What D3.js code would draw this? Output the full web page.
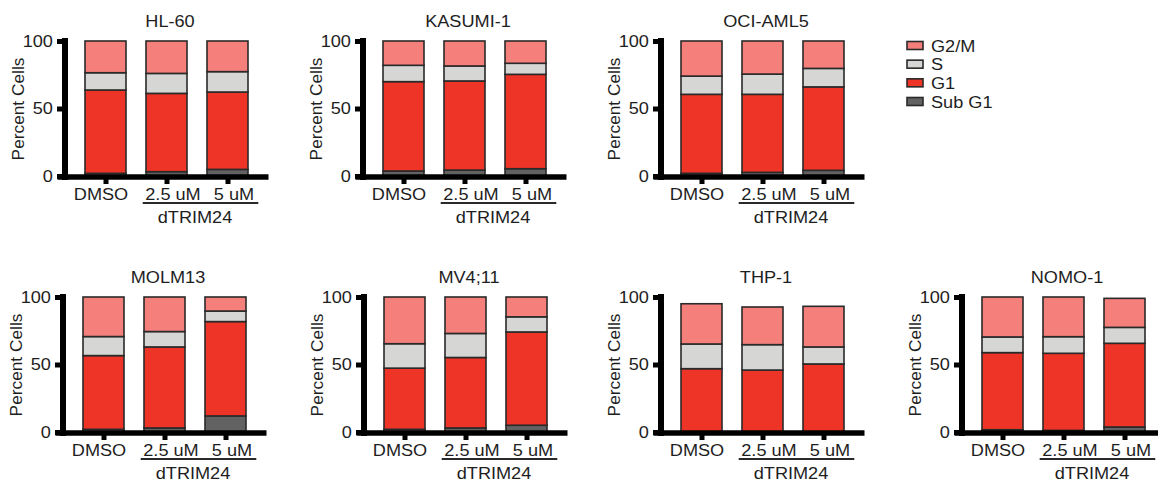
<!DOCTYPE html>
<html>
<head>
<meta charset="utf-8">
<script src="https://cdn.jsdelivr.net/npm/d3@7"></script>
<style>
  html, body { margin: 0; padding: 0; background: #fff; }
  svg { display: block; }
  text { font-family: "Liberation Sans", Arial, Helvetica, sans-serif; fill: #1e1e1e; }
</style>
</head>
<body>
<svg id="chart" width="1158" height="483"></svg>
<script>
// ---------------- DATA ----------------
const cellLines = ["HL-60", "KASUMI-1", "OCI-AML5", "MOLM13", "MV4;11", "THP-1", "NOMO-1"];
const conditions = ["DMSO", "2.5 uM", "5 uM"];
const treatmentLabel = "dTRIM24";
const phases = ["Sub G1", "G1", "S", "G2/M"];           // stacking order (bottom -> top)
const legendOrder = ["G2/M", "S", "G1", "Sub G1"];
const yTicks = [0, 50, 100];

// percent of cells per phase: [cell line][condition]
const subG1 = [
  [2.0, 3.2, 4.9],
  [3.7, 4.4, 5.4],
  [2.0, 2.7, 4.2],
  [2.0, 3.0, 11.9],
  [2.0, 3.0, 5.0],
  [0.0, 0.0, 0.0],
  [1.7, 1.2, 3.7]
];
const g1 = [
  [61.7, 58.0, 57.3],
  [66.2, 66.0, 69.9],
  [58.5, 57.8, 61.8],
  [54.6, 60.0, 69.9],
  [45.3, 52.2, 69.1],
  [46.9, 45.9, 50.4],
  [57.1, 57.1, 62.0]
];
const sPhase = [
  [12.8, 14.8, 15.1],
  [12.1, 11.1, 8.2],
  [13.5, 15.0, 13.7],
  [14.1, 11.4, 7.8],
  [18.1, 17.8, 11.2],
  [18.3, 18.8, 12.6],
  [11.6, 12.3, 11.8]
];
const g2m = [
  [23.5, 24.0, 22.7],
  [18.0, 18.5, 16.5],
  [26.0, 24.5, 20.3],
  [29.3, 25.6, 10.4],
  [34.6, 27.0, 14.7],
  [29.8, 27.9, 30.1],
  [29.6, 29.4, 21.5]
];

// ---------------- STYLE / LAYOUT ----------------
const colors = { "G2/M": "#f47f7b", "S": "#d6d6d4", "G1": "#ee3426", "Sub G1": "#626262" };
const seriesArrays = { "Sub G1": subG1, "G1": g1, "S": sPhase, "G2/M": g2m };
const panelPos = [
  { x: 65, y: 0 }, { x: 363, y: 0 }, { x: 661, y: 0 },
  { x: 63, y: 256 }, { x: 364, y: 256 }, { x: 661, y: 256 }, { x: 962, y: 256 }
];
const labelShift = [-5, 6, 6];
const SX = 1.1; // horizontal text stretch

const svg = d3.select("#chart");

const y = d3.scaleLinear().domain([0, 100]).range([176, 41]);
const x = d3.scalePoint().domain(conditions).range([40.5, 162.5]);
const barW = 41;
const stack = d3.stack().keys(phases);

cellLines.forEach((name, i) => {
  const p = panelPos[i];
  const g = svg.append("g").attr("transform", `translate(${p.x},${p.y})`);

  const table = conditions.map((c, j) => {
    const row = { condition: c };
    phases.forEach(ph => row[ph] = seriesArrays[ph][i][j]);
    return row;
  });
  const layers = stack(table);

  // bars
  g.selectAll("g.layer").data(layers).join("g")
    .attr("class", "layer")
    .attr("fill", d => colors[d.key])
    .selectAll("rect").data(d => d.filter(v => v[1] - v[0] > 0)).join("rect")
      .attr("x", d => x(d.data.condition) - barW / 2)
      .attr("width", barW)
      .attr("y", d => y(d[1]))
      .attr("height", d => y(d[0]) - y(d[1]))
      .attr("stroke", "#2a2a2a")
      .attr("stroke-width", 1.6);

  // y axis
  const ya = g.append("g").call(d3.axisLeft(y).tickValues(yTicks).tickSize(8).tickSizeOuter(0).tickPadding(4));
  ya.select(".domain").attr("stroke", "#000").attr("stroke-width", 6).attr("stroke-linecap", "square")
    .attr("d", `M0,${y(0) + 1}V${y(100)}`);
  ya.selectAll(".tick line").attr("stroke", "#000").attr("stroke-width", 5);
  ya.selectAll(".tick text")
    .attr("x", -11).attr("font-size", 16.5).attr("fill", "#1e1e1e")
    .attr("transform", `scale(${SX},1)`);

  // x baseline
  g.append("line")
    .attr("x1", -7.5).attr("x2", 203.5)
    .attr("y1", y(0) + 1).attr("y2", y(0) + 1)
    .attr("stroke", "#000").attr("stroke-width", 5.5);

  // x axis ticks + labels
  const xa = g.append("g").attr("transform", `translate(0,${y(0) + 1})`)
    .call(d3.axisBottom(x).tickSize(7).tickSizeOuter(0).tickPadding(4));
  xa.select(".domain").remove();
  xa.selectAll(".tick line").attr("stroke", "#000").attr("stroke-width", 5);
  xa.selectAll(".tick text")
    .attr("font-size", 16.5).attr("fill", "#2a2a2a")
    .attr("x", (d, j) => labelShift[j] / SX)
    .attr("transform", `scale(${SX},1)`);

  // treatment bracket
  g.append("line")
    .attr("x1", 77.7).attr("x2", 193.3)
    .attr("y1", 203).attr("y2", 203)
    .attr("stroke", "#2a2a2a").attr("stroke-width", 2);
  g.append("text")
    .attr("transform", `translate(130,223) scale(${SX},1)`)
    .attr("text-anchor", "middle").attr("font-size", 16.5).attr("fill", "#1e1e1e")
    .text(treatmentLabel);

  // title
  g.append("text")
    .attr("transform", `translate(105,27) scale(${SX},1)`)
    .attr("text-anchor", "middle").attr("font-size", 16.5)
    .text(name);

  // y label
  g.append("text")
    .attr("transform", `translate(-47,109) rotate(-90)`)
    .attr("text-anchor", "middle").attr("dy", "0.35em").attr("font-size", 17.3)
    .text("Percent Cells");
});

// legend
const legendY = d3.scalePoint().domain(legendOrder).range([45.5, 101.5]);
const lg = svg.append("g").attr("class", "legend");
const li = lg.selectAll("g").data(legendOrder).join("g")
  .attr("transform", d => `translate(907,${legendY(d)})`);
li.append("rect")
  .attr("x", 0).attr("y", -4).attr("width", 16).attr("height", 8)
  .attr("fill", d => colors[d]).attr("stroke", "#2a2a2a").attr("stroke-width", 1.6);
li.append("text")
  .attr("transform", `translate(24,6) scale(${SX},1)`)
  .attr("font-size", 16.5)
  .text(d => d);
</script>
</body>
</html>
